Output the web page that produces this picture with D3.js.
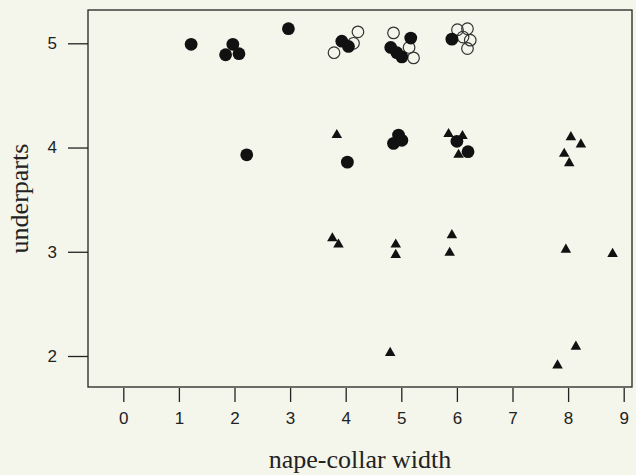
<!DOCTYPE html>
<html>
<head>
<meta charset="utf-8">
<script src="https://cdn.jsdelivr.net/npm/d3@7"></script>
<style>
  html, body { margin: 0; padding: 0; background: #f4f5eb; }
  #vis { width: 636px; height: 475px; }
</style>
</head>
<body>
<div id="vis"></div>
<script>
// values
const filledX = [1.22, 1.97, 1.84, 2.08, 2.97, 3.93, 4.05, 4.81, 5.17, 4.92, 5.01, 5.91,
                 2.22, 4.03, 4.95, 4.86, 5.01, 6.00, 6.20];
const filledY = [4.99, 4.99, 4.89, 4.90, 5.14, 5.02, 4.97, 4.96, 5.05, 4.91, 4.87, 5.04,
                 3.93, 3.86, 4.12, 4.04, 4.07, 4.06, 3.96];

const openX = [3.79, 4.14, 4.22, 4.86, 5.14, 5.22, 6.01, 6.19, 6.11, 6.24, 6.19];
const openY = [4.91, 5.00, 5.11, 5.10, 4.96, 4.86, 5.13, 5.14, 5.06, 5.03, 4.95];

const triX = [3.84, 5.85, 6.10, 6.03, 8.05, 8.23, 7.93, 8.02,
              3.76, 3.87, 4.90, 4.90, 5.91, 5.87, 7.96, 8.80,
              4.80, 8.14, 7.81];
const triY = [4.12, 4.13, 4.11, 3.93, 4.10, 4.03, 3.94, 3.85,
              3.13, 3.07, 3.07, 2.97, 3.16, 2.99, 3.02, 2.98,
              2.03, 2.09, 1.91];

const xTicks = [0, 1, 2, 3, 4, 5, 6, 7, 8, 9];
const yTicks = [2, 3, 4, 5];
const xTitle = "nape-collar width";
const yTitle = "underparts";

const width = 636;
const height = 475;
const box = { left: 88, right: 632, top: 10, bottom: 387 };

const svg = d3.select('#vis')
    .append('svg')
    .attr('width', width)
    .attr('height', height);

const x = d3.scaleLinear()
    .domain([0, 9])
    .range([123.3, 623.7]);

const y = d3.scaleLinear()
    .domain([2, 5])
    .range([356, 43.3]);

const ink = "#222";

// frame
svg.append("rect")
    .attr("x", box.left)
    .attr("y", box.top)
    .attr("width", box.right - box.left)
    .attr("height", box.bottom - box.top)
    .attr("fill", "none")
    .attr("stroke", ink)
    .attr("stroke-width", 1.3);

// x axis
const xAxis = svg.append("g")
    .attr("transform", `translate(0,${box.bottom + 1})`)
    .call(d3.axisBottom(x).tickValues(xTicks).tickFormat(d3.format("d"))
        .tickSize(14).tickPadding(10).tickSizeOuter(0));
xAxis.select(".domain").remove();

// y axis
const yAxis = svg.append("g")
    .attr("transform", `translate(${box.left},0)`)
    .call(d3.axisLeft(y).tickValues(yTicks).tickFormat(d3.format("d"))
        .tickSize(20).tickPadding(11).tickSizeOuter(0));
yAxis.select(".domain").remove();

svg.selectAll(".tick line").attr("stroke", ink).attr("stroke-width", 1.3);
svg.selectAll(".tick text")
    .attr("fill", ink)
    .style("font-family", "'Liberation Sans', Arial, sans-serif")
    .style("font-size", "17px");

// titles
svg.append("text")
    .attr("x", (box.left + box.right) / 2)
    .attr("y", 468)
    .attr("text-anchor", "middle")
    .attr("fill", ink)
    .style("font-family", "'Liberation Serif', 'Times New Roman', serif")
    .style("font-size", "26px")
    .text(xTitle);

svg.append("text")
    .attr("transform", `translate(28,${(box.top + box.bottom) / 2}) rotate(-90)`)
    .attr("text-anchor", "middle")
    .attr("fill", ink)
    .style("font-family", "'Liberation Serif', 'Times New Roman', serif")
    .style("font-size", "26px")
    .text(yTitle);

// points
const pts = g => g.x.map((v, i) => ({ x: v, y: g.y[i] }));

svg.append("g")
    .selectAll("circle")
    .data(pts({ x: openX, y: openY }))
    .join("circle")
    .attr("cx", d => x(d.x))
    .attr("cy", d => y(d.y))
    .attr("r", 5.8)
    .attr("fill", "none")
    .attr("stroke", "#333")
    .attr("stroke-width", 1.2);

svg.append("g")
    .selectAll("circle")
    .data(pts({ x: filledX, y: filledY }))
    .join("circle")
    .attr("cx", d => x(d.x))
    .attr("cy", d => y(d.y))
    .attr("r", 6.4)
    .attr("fill", "#111");

const tri = d3.symbol().type(d3.symbolTriangle).size(48);

svg.append("g")
    .selectAll("path")
    .data(pts({ x: triX, y: triY }))
    .join("path")
    .attr("transform", d => `translate(${x(d.x)},${y(d.y)})`)
    .attr("d", tri)
    .attr("fill", "#111");
</script>
</body>
</html>
